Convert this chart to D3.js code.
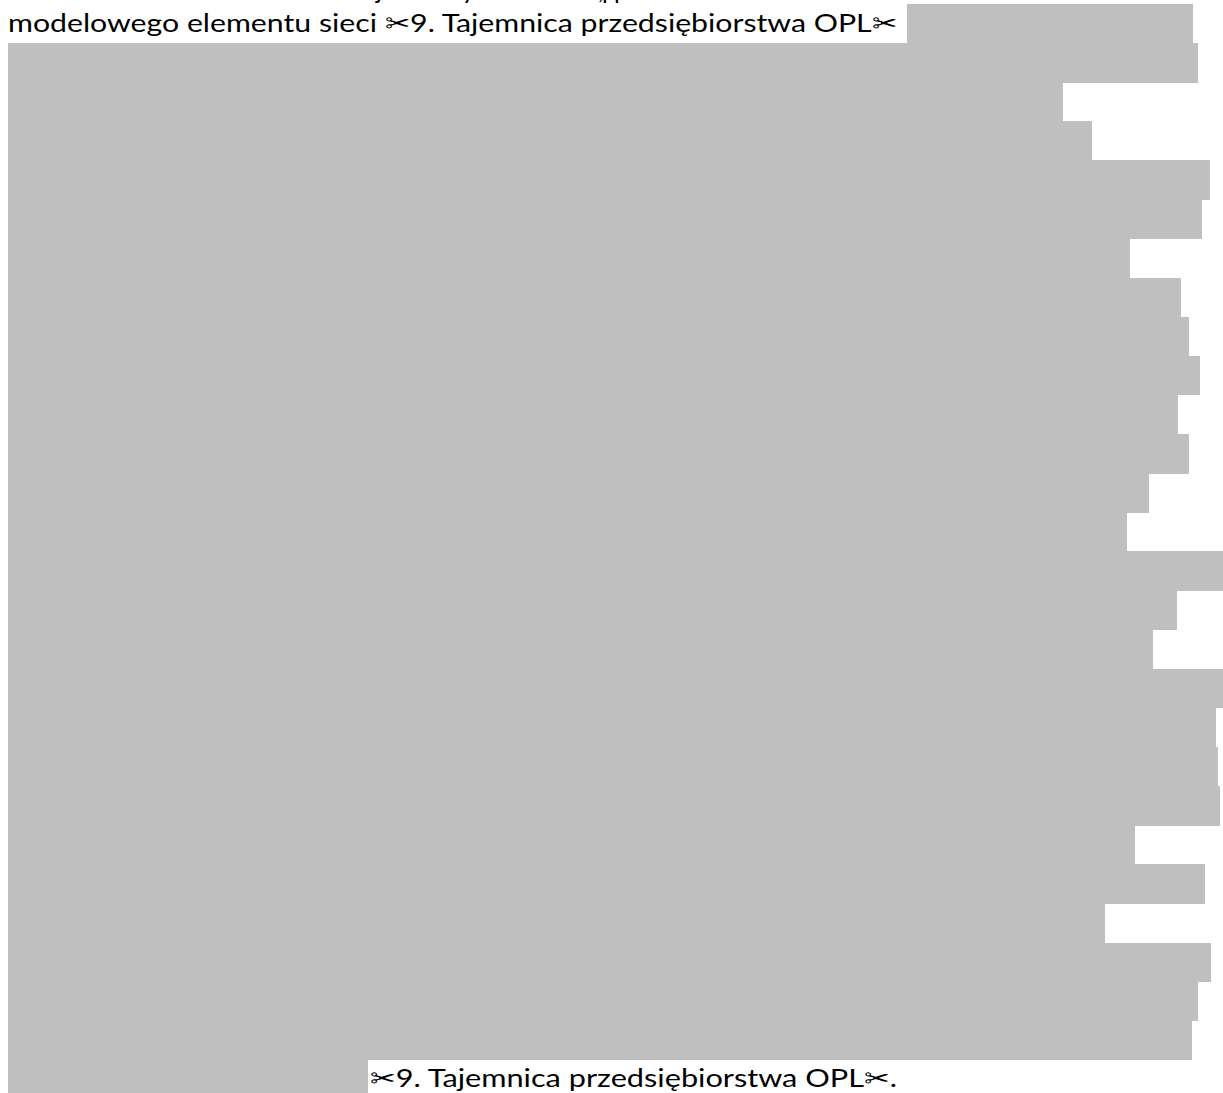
<!DOCTYPE html>
<html><head><meta charset="utf-8">
<script src="https://cdn.jsdelivr.net/npm/d3@7"></script>
<style>html,body{margin:0;padding:0;background:#fff;overflow:hidden}</style>
</head><body>
<svg id="c" width="1223" height="1093"></svg>
<script>
// Redaction blocks: one per text line (row index), start and end x (page px)
const rows = d3.range(28);
const rowStart = [907, 8, 8, 8, 8, 8, 8, 8, 8, 8, 8, 8, 8, 8, 8, 8, 8, 8, 8, 8, 8, 8, 8, 8, 8, 8, 8, 8];
const rowEnd = [1193, 1198, 1063, 1092, 1210, 1202, 1130, 1181, 1189, 1200, 1178, 1189, 1149, 1127, 1223, 1177, 1153, 1223, 1216, 1218, 1220, 1135, 1205, 1105, 1211, 1198, 1192, 368];
const topLine = "modelowego elementu sieci \u27029. Tajemnica przedsi\u0119biorstwa OPL\u2702";
const bottomLine = "\u27029. Tajemnica przedsi\u0119biorstwa OPL\u2702.";
const cutLetters = ["j", "y", ",", "p", "p"];
const cutLetterX = [376, 462, 598, 602, 614];

const svg = d3.select("#c");
const x = d3.scaleLinear().domain([0, 1223]).range([0, 1223]);
const y = d3.scaleBand().domain(rows).range([3.9, 1099]).paddingInner(0).paddingOuter(0);

svg.append("g").selectAll("rect").data(rows).join("rect")
  .attr("x", i => x(rowStart[i]))
  .attr("y", i => y(i))
  .attr("width", i => x(rowEnd[i]) - x(rowStart[i]))
  .attr("height", y.bandwidth() + 0.4)
  .attr("fill", "#bfbfbf")
  .attr("shape-rendering", "crispEdges");

const font = "Lato, 'Open Sans', sans-serif";
svg.append("text").attr("x", 8).attr("y", 32)
  .attr("font-family", font).attr("font-size", 25).attr("fill", "#000")
  .attr("textLength", 889).attr("lengthAdjust", "spacingAndGlyphs")
  .text(topLine);
svg.append("text").attr("x", 370).attr("y", 1087)
  .attr("font-family", font).attr("font-size", 25).attr("fill", "#000")
  .attr("textLength", 527).attr("lengthAdjust", "spacingAndGlyphs")
  .text(bottomLine);
svg.append("g").selectAll("text").data(cutLetters).join("text")
  .attr("x", (d, i) => cutLetterX[i]).attr("y", -1)
  .attr("font-family", font).attr("font-size", 25).attr("fill", "#000")
  .text(d => d);
</script>
</body></html>
